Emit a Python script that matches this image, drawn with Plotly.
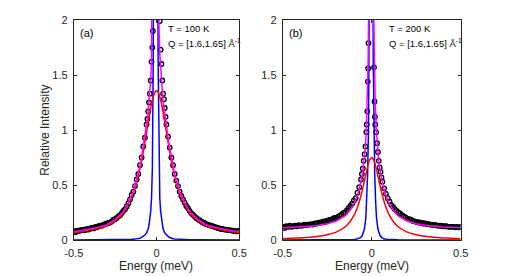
import plotly.graph_objects as go

# ---------------- Panel (a): T = 100 K ----------------
data_a_E = [-0.5, -0.49, -0.48, -0.47, -0.46, -0.45, -0.44, -0.43, -0.42, -0.41,
            -0.4, -0.39, -0.38, -0.37, -0.36, -0.35, -0.34, -0.33, -0.32, -0.31,
            -0.3, -0.29, -0.28, -0.27, -0.26, -0.25, -0.24, -0.23, -0.22, -0.21,
            -0.2, -0.19, -0.18, -0.17, -0.16, -0.15, -0.14, -0.13, -0.12, -0.11,
            -0.1, -0.09, -0.08, -0.07, -0.06, -0.055, -0.05, -0.045, -0.04, -0.035,
            -0.03, -0.025, -0.022, -0.015, -0.01, -0.005, 0.0, 0.005, 0.01, 0.015,
            0.02, 0.025, 0.03, 0.035, 0.04, 0.045, 0.05, 0.055, 0.06, 0.07,
            0.08, 0.09, 0.1, 0.11, 0.12, 0.13, 0.14, 0.15, 0.16, 0.17,
            0.18, 0.19, 0.2, 0.21, 0.22, 0.23, 0.24, 0.25, 0.26, 0.27,
            0.28, 0.29, 0.3, 0.31, 0.32, 0.33, 0.34, 0.35, 0.36, 0.37,
            0.38, 0.39, 0.4, 0.41, 0.42, 0.43, 0.44, 0.45, 0.46, 0.47,
            0.48, 0.49, 0.5]
data_a_I = [0.08, 0.07, 0.085, 0.08, 0.09, 0.09, 0.095, 0.09, 0.1, 0.095,
            0.105, 0.11, 0.105, 0.12, 0.115, 0.125, 0.13, 0.13, 0.14, 0.145,
            0.15, 0.155, 0.16, 0.17, 0.185, 0.19, 0.2, 0.215, 0.225, 0.245,
            0.265, 0.28, 0.305, 0.335, 0.37, 0.41, 0.44, 0.49, 0.55, 0.6,
            0.68, 0.75, 0.85, 0.93, 1.05, 1.1, 1.17, 1.25, 1.33, 1.45,
            1.62, 1.75, 1.9, 4.8, 9.3, 13.0, 9.4, 4.9, 2.9, 2.1,
            1.99, 1.73, 1.6, 1.45, 1.33, 1.28, 1.2, 1.12, 1.05, 0.94,
            0.84, 0.75, 0.68, 0.6, 0.54, 0.49, 0.44, 0.4, 0.37, 0.34,
            0.31, 0.29, 0.265, 0.245, 0.23, 0.215, 0.2, 0.19, 0.18, 0.17,
            0.16, 0.155, 0.145, 0.14, 0.135, 0.13, 0.125, 0.12, 0.115, 0.11,
            0.105, 0.1, 0.1, 0.095, 0.095, 0.09, 0.09, 0.088, 0.085, 0.082,
            0.08, 0.078, 0.085]

fit_a_E = [-0.5, -0.45, -0.4, -0.35, -0.3, -0.25, -0.2, -0.17, -0.15, -0.13,
           -0.11, -0.1, -0.09, -0.08, -0.07, -0.06, -0.05, -0.045, -0.04, -0.035,
           -0.03, -0.025, -0.02, -0.015, -0.01, -0.005, 0.0, 0.005, 0.01, 0.015,
           0.02, 0.025, 0.03, 0.035, 0.04, 0.05, 0.06, 0.07, 0.08, 0.09,
           0.1, 0.11, 0.13, 0.15, 0.17, 0.2, 0.25, 0.3, 0.35, 0.4,
           0.45, 0.5]
narrow_a = [0.0, 0.0, 0.0005, 0.001, 0.001, 0.002, 0.003, 0.004, 0.006, 0.008,
            0.012, 0.016, 0.023, 0.032, 0.045, 0.065, 0.10, 0.14, 0.19, 0.26,
            0.38, 0.65, 1.6, 3.5, 8.0, 12.0, 8.0, 3.5, 1.6, 0.65,
            0.38, 0.26, 0.19, 0.14, 0.10, 0.065, 0.045, 0.032, 0.023, 0.016,
            0.012, 0.010, 0.007, 0.005, 0.004, 0.003, 0.002, 0.001, 0.001, 0.0005,
            0.0, 0.0]
broad_a = [0.066, 0.078, 0.092, 0.108, 0.13, 0.175, 0.245, 0.33, 0.39, 0.475,
           0.585, 0.65, 0.72, 0.80, 0.89, 0.98, 1.07, 1.115, 1.16, 1.20,
           1.24, 1.27, 1.30, 1.325, 1.345, 1.355, 1.36, 1.355, 1.345, 1.325,
           1.30, 1.27, 1.24, 1.20, 1.16, 1.07, 0.98, 0.89, 0.80, 0.72,
           0.65, 0.585, 0.475, 0.39, 0.33, 0.245, 0.175, 0.13, 0.108, 0.092,
           0.078, 0.066]
total_a = [0.074, 0.086, 0.10, 0.117, 0.139, 0.185, 0.256, 0.342, 0.404, 0.491,
           0.605, 0.674, 0.751, 0.840, 0.943, 1.053, 1.178, 1.263, 1.358, 1.468,
           1.628, 1.928, 2.908, 4.83, 9.35, 13.37, 9.37, 4.85, 2.93, 1.945,
           1.688, 1.538, 1.438, 1.363, 1.268, 1.143, 1.033, 0.93, 0.831, 0.744,
           0.67, 0.603, 0.49, 0.403, 0.342, 0.256, 0.185, 0.139, 0.117, 0.10,
           0.086, 0.074]

# ---------------- Panel (b): T = 200 K ----------------
data_b_E = [-0.5, -0.49, -0.48, -0.47, -0.46, -0.45, -0.44, -0.43, -0.42, -0.41,
            -0.4, -0.39, -0.38, -0.37, -0.36, -0.35, -0.34, -0.33, -0.32, -0.31,
            -0.3, -0.29, -0.28, -0.27, -0.26, -0.25, -0.24, -0.23, -0.22, -0.21,
            -0.2, -0.19, -0.18, -0.17, -0.16, -0.15, -0.14, -0.13, -0.12, -0.11,
            -0.1, -0.09, -0.08, -0.07, -0.06, -0.055, -0.05, -0.045, -0.04, -0.035,
            -0.03, -0.028, -0.025, -0.022, -0.02, -0.018, -0.015, -0.01, -0.005, 0.0,
            0.005, 0.01, 0.013, 0.016, 0.018, 0.02, 0.025, 0.03, 0.035, 0.04,
            0.045, 0.05, 0.055, 0.06, 0.07, 0.08, 0.09, 0.1, 0.11, 0.12,
            0.13, 0.14, 0.15, 0.16, 0.17, 0.18, 0.19, 0.2, 0.21, 0.22,
            0.23, 0.24, 0.25, 0.26, 0.27, 0.28, 0.29, 0.3, 0.31, 0.32,
            0.33, 0.34, 0.35, 0.36, 0.37, 0.38, 0.39, 0.4, 0.41, 0.42,
            0.43, 0.44, 0.45, 0.46, 0.47, 0.48, 0.49, 0.5]
data_b_I = [0.12, 0.11, 0.125, 0.12, 0.13, 0.12, 0.125, 0.13, 0.125, 0.135,
            0.13, 0.13, 0.14, 0.135, 0.14, 0.14, 0.145, 0.14, 0.15, 0.15,
            0.155, 0.16, 0.16, 0.17, 0.165, 0.175, 0.18, 0.185, 0.19, 0.2,
            0.2, 0.21, 0.22, 0.23, 0.245, 0.25, 0.27, 0.29, 0.31, 0.33,
            0.36, 0.38, 0.43, 0.48, 0.55, 0.6, 0.65, 0.72, 0.78, 0.85,
            0.98, 1.05, 1.17, 1.44, 1.56, 1.79, 2.4, 4.5, 14.0, 12.0,
            3.8, 2.2, 1.57, 1.26, 1.12, 1.05, 0.98, 0.88, 0.8, 0.72,
            0.66, 0.62, 0.57, 0.53, 0.47, 0.42, 0.38, 0.35, 0.32, 0.3,
            0.28, 0.265, 0.25, 0.24, 0.225, 0.215, 0.205, 0.195, 0.19, 0.185,
            0.175, 0.17, 0.165, 0.16, 0.16, 0.155, 0.15, 0.15, 0.145, 0.145,
            0.14, 0.14, 0.135, 0.135, 0.13, 0.13, 0.13, 0.125, 0.125, 0.125,
            0.12, 0.12, 0.12, 0.12, 0.115, 0.12, 0.115, 0.12]

narrow_b_E = [-0.5, -0.3, -0.203, -0.153, -0.103, -0.088, -0.073, -0.063, -0.053, -0.041,
              -0.033, -0.028, -0.023, -0.018, -0.015, -0.011, -0.007, -0.003, 0.001, 0.005,
              0.009, 0.012, 0.017, 0.022, 0.027, 0.035, 0.047, 0.057, 0.067, 0.082,
              0.097, 0.147, 0.197, 0.297, 0.5]
narrow_b = [0.0, 0.0, 0.001, 0.002, 0.005, 0.007, 0.012, 0.022, 0.04, 0.1,
            0.2, 0.35, 0.6, 1.0, 1.6, 3.0, 8.0, 20.0, 8.0, 3.0,
            1.6, 1.0, 0.6, 0.35, 0.2, 0.1, 0.04, 0.022, 0.012, 0.007,
            0.005, 0.002, 0.001, 0.0, 0.0]

broad_b_E = [-0.5, -0.45, -0.4, -0.35, -0.3, -0.25, -0.2, -0.15, -0.12, -0.1,
             -0.09, -0.08, -0.07, -0.06, -0.05, -0.04, -0.03, -0.02, -0.01, 0.0,
             0.01, 0.02, 0.03, 0.04, 0.05, 0.06, 0.07, 0.08, 0.09, 0.1,
             0.12, 0.15, 0.2, 0.25, 0.3, 0.35, 0.4, 0.45, 0.5]
broad_b = [0.0125, 0.0153, 0.0193, 0.025, 0.0336, 0.0475, 0.072, 0.118, 0.17, 0.223,
           0.257, 0.298, 0.347, 0.405, 0.471, 0.544, 0.618, 0.685, 0.733, 0.75,
           0.733, 0.685, 0.618, 0.544, 0.471, 0.405, 0.347, 0.298, 0.257, 0.223,
           0.17, 0.118, 0.072, 0.0475, 0.0336, 0.025, 0.0193, 0.0153, 0.0125]

total_b_E = [-0.5, -0.45, -0.4, -0.35, -0.3, -0.25, -0.2, -0.15, -0.12, -0.1,
             -0.09, -0.08, -0.07, -0.06, -0.05, -0.04, -0.035, -0.03, -0.025, -0.02,
             -0.015, -0.01, -0.005, 0.0, 0.005, 0.01, 0.015, 0.02, 0.025, 0.03,
             0.035, 0.04, 0.05, 0.06, 0.07, 0.08, 0.09, 0.1, 0.12, 0.15,
             0.2, 0.25, 0.3, 0.35, 0.4, 0.45, 0.5]
total_b = [0.1125, 0.1153, 0.1193, 0.125, 0.1336, 0.148, 0.173, 0.22, 0.274, 0.328,
           0.364, 0.408, 0.461, 0.532, 0.621, 0.754, 0.861, 1.008, 1.253, 1.635,
           2.412, 4.633, 14.85, 12.85, 3.846, 2.183, 1.562, 1.245, 1.023, 0.883,
           0.781, 0.709, 0.604, 0.523, 0.458, 0.406, 0.363, 0.328, 0.273, 0.22,
           0.173, 0.148, 0.1336, 0.125, 0.1193, 0.1153, 0.1125]

x_ticks = [-0.5, 0, 0.5]
x_tick_text = ["-0.5", "0", "0.5"]
y_ticks = [0, 0.5, 1, 1.5, 2]
y_tick_text = ["0", "0.5", "1", "1.5", "2"]

W, H = 518, 276
ML, MT, MB = 0, 20, 36
PH = H - MT - MB
FONT = "Liberation Sans, Arial, Helvetica, sans-serif"
AXC = "#262626"

fig = go.Figure()


def add_panel(xa, ya, dE, dI, nE, nI, bE, bI, tE, tI):
    fig.add_trace(go.Scatter(x=dE, y=dI, mode="markers", xaxis=xa, yaxis=ya,
                             marker=dict(symbol="circle-open", size=4.5, color="black",
                                         line=dict(width=1.3, color="black")),
                             showlegend=False, hoverinfo="skip"))
    fig.add_trace(go.Scatter(x=nE, y=nI, mode="lines", xaxis=xa, yaxis=ya,
                             line=dict(color="rgb(0,0,255)", width=1.5),
                             showlegend=False))
    fig.add_trace(go.Scatter(x=bE, y=bI, mode="lines", xaxis=xa, yaxis=ya,
                             line=dict(color="rgb(255,0,0)", width=1.5, shape="spline", smoothing=0.6),
                             showlegend=False))
    fig.add_trace(go.Scatter(x=tE, y=tI, mode="lines", xaxis=xa, yaxis=ya,
                             line=dict(color="rgb(255,0,255)", width=1.5),
                             showlegend=False))


add_panel("x", "y", data_a_E, data_a_I, fit_a_E, narrow_a, fit_a_E, broad_a, fit_a_E, total_a)
add_panel("x2", "y2", data_b_E, data_b_I, narrow_b_E, narrow_b, broad_b_E, broad_b, total_b_E, total_b)

axis_common = dict(showline=True, linecolor=AXC, linewidth=1, mirror="ticks",
                   ticks="inside", ticklen=3, tickwidth=1, tickcolor=AXC,
                   showgrid=False, zeroline=False,
                   tickfont=dict(family=FONT, size=11, color=AXC))

fig.update_layout(
    width=W, height=H,
    margin=dict(l=ML, r=0, t=MT, b=MB),
    paper_bgcolor="white", plot_bgcolor="white",
    xaxis=dict(domain=[67 / W, 238 / W], range=[-0.5, 0.5], tickvals=x_ticks,
               ticktext=x_tick_text, anchor="y", ticklabelstandoff=3, **axis_common),
    yaxis=dict(domain=[0, 1], range=[0, 2], tickvals=y_ticks, ticktext=y_tick_text,
               anchor="x", ticklabelstandoff=3, **axis_common),
    xaxis2=dict(domain=[283 / W, 467 / W], range=[-0.5, 0.5], tickvals=x_ticks,
                ticktext=x_tick_text, anchor="y2", ticklabelstandoff=3, **axis_common),
    yaxis2=dict(domain=[0, 1], range=[0, 2], tickvals=y_ticks, ticktext=y_tick_text,
                anchor="x2", ticklabelstandoff=3, **axis_common),
)


def py(ypx):
    return (H - MB - ypx) / PH


ann = []
# axis titles
ann.append(dict(text="Energy (meV)", x=(67 + 238) / 2 / W, y=py(266), xref="paper", yref="paper",
                xanchor="center", yanchor="middle",
                showarrow=False, font=dict(family=FONT, size=12, color=AXC)))
ann.append(dict(text="Energy (meV)", x=(283 + 467) / 2 / W, y=py(266), xref="paper", yref="paper",
                xanchor="center", yanchor="middle",
                showarrow=False, font=dict(family=FONT, size=12, color=AXC)))
ann.append(dict(text="Relative Intensity", x=37 / W, y=py(130), xref="paper", yref="paper",
                xanchor="center", yanchor="middle",
                showarrow=False, textangle=-90, font=dict(family=FONT, size=12, color=AXC)))
# panel labels
for lab, x0 in [("(a)", 71), ("(b)", 287)]:
    ann.append(dict(text=lab, x=x0 / W, y=py(33), xref="paper", yref="paper",
                    xanchor="left", yanchor="middle",
                    showarrow=False, font=dict(family=FONT, size=11, color="black")))
for t, tx in [("T = 100 K", 162), ("T = 200 K", 391)]:
    ann.append(dict(text=t, x=tx / W, y=py(29), xref="paper", yref="paper",
                    xanchor="left", yanchor="middle",
                    showarrow=False, font=dict(family=FONT, size=9.5, color="black")))
    ann.append(dict(text="Q = [1.6,1.65] Å<sup>-1</sup>", x=tx / W, y=py(43), xref="paper",
                    yref="paper", xanchor="left", yanchor="middle", showarrow=False,
                    font=dict(family=FONT, size=9.5, color="black")))
fig.update_layout(annotations=ann)

fig.write_html("out.html", config={"displayModeBar": False},
               post_script="document.body.style.margin='0';document.body.style.overflow='hidden';")
